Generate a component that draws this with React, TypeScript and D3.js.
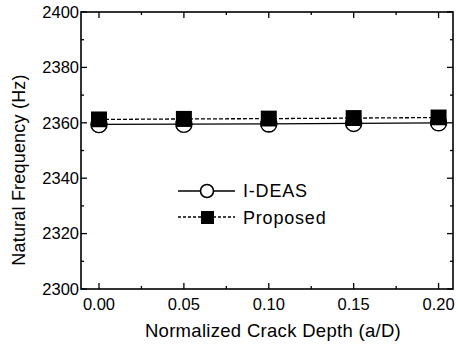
import React, { useEffect, useRef } from 'react';
import * as d3 from 'd3';

const depths = [0.0, 0.05, 0.1, 0.15, 0.2];
const ideas = [2359.4, 2359.5, 2359.6, 2359.8, 2360.0];
const proposed = [2361.2, 2361.4, 2361.5, 2361.7, 2361.9];
const xTicks = [0.0, 0.05, 0.1, 0.15, 0.2];
const yTicks = [2300, 2320, 2340, 2360, 2380, 2400];

const FONT = 'Liberation Sans, Arial, sans-serif';

const App: React.FC = () => {
  const svgRef = useRef<SVGSVGElement>(null);

  useEffect(() => {
    if (!svgRef.current) return;
    const svg = d3.select(svgRef.current);
    svg.selectAll('*').remove();

    const left = 81, right = 453, top = 12, bottom = 289;

    const x = d3.scaleLinear().domain([-0.0106, 0.2085]).range([left, right]);
    const y = d3.scaleLinear().domain([2300, 2400]).range([bottom, top]);

    // frame
    svg.append('rect')
      .attr('x', left).attr('y', top)
      .attr('width', right - left).attr('height', bottom - top)
      .attr('fill', 'none').attr('stroke', '#000').attr('stroke-width', 1.6);

    // ticks (inward, mirrored)
    const xMinor = d3.range(0, 0.2001, 0.025);
    xMinor.forEach(v => {
      const major = xTicks.some(t => Math.abs(t - v) < 1e-6);
      const len = major ? 6 : 3;
      svg.append('line').attr('x1', x(v)).attr('x2', x(v)).attr('y1', bottom).attr('y2', bottom - len)
        .attr('stroke', '#000').attr('stroke-width', 1.3);
      svg.append('line').attr('x1', x(v)).attr('x2', x(v)).attr('y1', top).attr('y2', top + len)
        .attr('stroke', '#000').attr('stroke-width', 1.3);
    });
    const yMinor = d3.range(2300, 2401, 10);
    yMinor.forEach(v => {
      const major = yTicks.includes(v);
      const len = major ? 6 : 3;
      svg.append('line').attr('x1', left).attr('x2', left + len).attr('y1', y(v)).attr('y2', y(v))
        .attr('stroke', '#000').attr('stroke-width', 1.3);
      svg.append('line').attr('x1', right).attr('x2', right - len).attr('y1', y(v)).attr('y2', y(v))
        .attr('stroke', '#000').attr('stroke-width', 1.3);
    });

    // tick labels
    svg.selectAll('.xl').data(xTicks).enter().append('text')
      .attr('x', d => x(d)).attr('y', 310)
      .attr('text-anchor', 'middle')
      .style('font-family', FONT).style('font-size', '16.5px')
      .text(d => d.toFixed(2));
    svg.selectAll('.yl').data(yTicks).enter().append('text')
      .attr('x', left - 2).attr('y', d => y(d)).attr('dy', '0.35em')
      .attr('text-anchor', 'end')
      .style('font-family', FONT).style('font-size', '16.5px')
      .text(d => d);

    // axis titles
    svg.append('text')
      .attr('x', 273).attr('y', 337)
      .attr('text-anchor', 'middle')
      .style('font-family', FONT).style('font-size', '18.5px').style('letter-spacing', '0.3px')
      .text('Normalized Crack Depth (a/D)');
    svg.append('text')
      .attr('transform', 'translate(25, 170) rotate(-90)')
      .attr('text-anchor', 'middle')
      .style('font-family', FONT).style('font-size', '18px').style('letter-spacing', '0.2px')
      .text('Natural Frequency (Hz)');

    const line = d3.line<number>().x((_, i) => x(depths[i])).y(d => y(d));

    // lines
    svg.append('path').datum(ideas).attr('d', line)
      .attr('fill', 'none').attr('stroke', '#000').attr('stroke-width', 1.3);
    svg.append('path').datum(proposed).attr('d', line)
      .attr('fill', 'none').attr('stroke', '#000').attr('stroke-width', 1.3)
      .attr('stroke-dasharray', '4,2');

    // markers
    svg.selectAll('.sq').data(proposed).enter().append('rect')
      .attr('x', (_, i) => x(depths[i]) - 8).attr('y', d => y(d) - 8)
      .attr('width', 16).attr('height', 16).attr('fill', '#000');
    svg.selectAll('.ci').data(ideas).enter().append('circle')
      .attr('cx', (_, i) => x(depths[i])).attr('cy', d => y(d))
      .attr('r', 8).attr('fill', 'none').attr('stroke', '#000').attr('stroke-width', 1.6);
    // lower half of circles visible below squares is white
    svg.selectAll('.cw').data(ideas).enter().append('path')
      .attr('d', (d, i) => {
        const cx = x(depths[i]), cy = y(d), r = 7.2;
        const ys = y(proposed[i]) + 8;
        const dy = ys - cy;
        if (dy >= r) return '';
        const hw = Math.sqrt(r * r - dy * dy);
        return `M${cx - hw},${ys} A${r},${r} 0 ${dy < 0 ? 1 : 0} 0 ${cx + hw},${ys} Z`;
      })
      .attr('fill', '#fff');

    // legend
    const lg = svg.append('g');
    lg.append('line').attr('x1', 178).attr('x2', 235).attr('y1', 191).attr('y2', 191)
      .attr('stroke', '#000').attr('stroke-width', 1.3);
    lg.append('circle').attr('cx', 207).attr('cy', 191).attr('r', 6.5)
      .attr('fill', '#fff').attr('stroke', '#000').attr('stroke-width', 1.6);
    lg.append('text').attr('x', 243).attr('y', 191).attr('dy', '0.35em')
      .style('font-family', FONT).style('font-size', '18px').style('letter-spacing', '0.8px').text('I-DEAS');
    lg.append('line').attr('x1', 178).attr('x2', 235).attr('y1', 217).attr('y2', 217)
      .attr('stroke', '#000').attr('stroke-width', 1.3).attr('stroke-dasharray', '3,2');
    lg.append('rect').attr('x', 201).attr('y', 211).attr('width', 13).attr('height', 13)
      .attr('fill', '#000');
    lg.append('text').attr('x', 243).attr('y', 218).attr('dy', '0.35em')
      .style('font-family', FONT).style('font-size', '18px').style('letter-spacing', '0.8px').text('Proposed');
  }, []);

  return <svg ref={svgRef} width={458} height={346} style={{ position: 'absolute', left: 0, top: 0, background: '#fff' }} />;
};

export default App;
